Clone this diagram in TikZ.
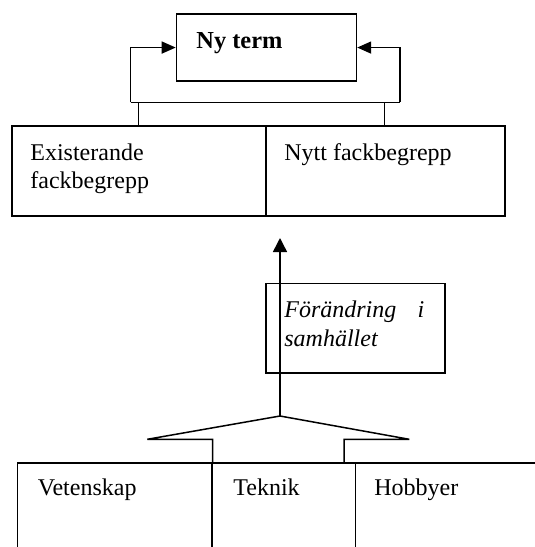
\documentclass[tikz,border=0pt]{standalone}
\usepackage{fontspec}
\setmainfont{Liberation Serif}
\usetikzlibrary{arrows.meta}
\tikzset{
  box/.style={draw, line width=0.75pt, inner sep=0pt, rectangle, anchor=north west},
  lbl/.style={inner sep=0pt, anchor=base west, font=\fontsize{12}{13.8}\selectfont},
  conn/.style={line width=0.75pt},
  arr/.style={conn, -{Triangle[length=7pt,width=6pt]}},
  uparr/.style={conn, -{Triangle[length=7pt,width=7pt]}},
}
\begin{document}
\begin{tikzpicture}[x=0.5pt, y=-0.5pt]
\useasboundingbox (0,0) rectangle (535,547);
\clip (0,0) rectangle (535,547);
% boxes
\node[box, minimum width=90pt, minimum height=33.5pt] (nyterm) at (175.7,13.3) {};
\node[box, minimum width=127pt, minimum height=45pt] (exist) at (11,125) {};
\node[box, minimum width=119.5pt, minimum height=45pt] (nytt) at (265,125) {};
\node[box, minimum width=89.5pt, minimum height=44.75pt] (change) at (265,282.5) {};
\node[box, minimum width=97.25pt, minimum height=50pt] (vet) at (16.5,462) {};
\node[box, minimum width=71.75pt, minimum height=50pt] (tek) at (211,462) {};
\node[box, minimum width=100pt, minimum height=50pt] (hob) at (354.5,462) {};
% texts
\node[lbl, font=\fontsize{12.2}{13.8}\selectfont\bfseries] (tnyterm) at (196,48) {Ny term};
\node[lbl] (texist1) at (30,160) {Existerande};
\node[lbl] (texist2) at (30,188) {fackbegrepp};
\node[lbl] (tnytt) at (284,160) {Nytt fackbegrepp};
\node[lbl, font=\fontsize{12}{13.8}\selectfont\itshape] (tchange1) at (284,317) {\hbox to 70pt{Förändring\hfill i}};
\node[lbl, font=\fontsize{12}{13.8}\selectfont\itshape] (tchange2) at (284,346) {samhället};
\node[lbl] (tvet) at (37.5,495) {Vetenskap};
\node[lbl] (ttek) at (233,495) {Teknik};
\node[lbl] (thob) at (374,495) {Hobbyer};
% feedback loop to "Ny term"
\coordinate (jl) at (130.7,102.3);
\coordinate (jr) at (400,102.3);
\coordinate (sl) at (138.3,102.3);
\coordinate (sr) at (384.7,102.3);
\draw[conn] (jl) -- (jr);
\draw[arr] (jl) |- (nyterm.west);
\draw[arr] (jr) |- (nyterm.east);
\draw[conn] (sl) -- (sl |- exist.north);
\draw[conn] (sr) -- (sr |- nytt.north);
% upward arrow and fork
\coordinate (apex) at (280,416);
\coordinate (tip) at (280,238);
\coordinate (wl) at (147.3,439.3);
\coordinate (wr) at (409.3,439.3);
\coordinate (fl) at (212.7,439.3);
\coordinate (fr) at (344,439.3);
\draw[uparr] (apex) -- (tip);
\draw[conn] (fl |- vet.north) -- (fl) -- (wl) -- (apex) -- (wr) -- (fr) -- (fr |- hob.north);
\end{tikzpicture}
\end{document}
